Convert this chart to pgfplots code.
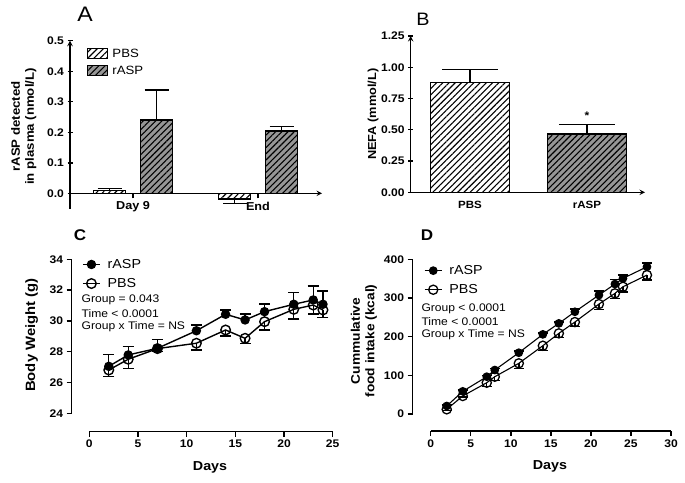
\documentclass[border=0pt]{standalone}
\usepackage{fontspec}
\setmainfont{Liberation Sans}[FakeStretch=1.1]
\usepackage{pgfplots}
\pgfplotsset{compat=1.18}
\usetikzlibrary{patterns.meta}

\pgfplotsset{
  gp/.style={
    scale only axis, anchor=south west, clip=false,
    axis line style={line width=1.4pt,-},
    every tick/.style={line width=1.4pt, black},
    major tick length=5pt, tick align=outside,
    x tick label style={font=\bfseries\fontsize{11}{12}\selectfont},
    y tick label style={font=\bfseries\fontsize{11}{12}\selectfont},
    /pgf/number format/assume math mode=true,
    label style={font=\bfseries\fontsize{12}{14}\selectfont},
  },
  barpat/.style={postaction={pattern={Lines[angle=45,distance=4.4pt,line width=1.1pt]}, draw=black, line width=1.4pt}},
  error bars/ebar/.style={error bar style={line width=1.4pt, black}, error mark options={rotate=90, line width=1.4pt, mark size=#1, black}},
}

\begin{document}
\begin{tikzpicture}
\path[use as bounding box] (0,0) rectangle (685pt,482pt);

% Titles
\node[font=\fontsize{21}{23}\selectfont] at (85pt,468pt) {A};
\node[font=\fontsize{18}{20}\selectfont] at (423pt,462.5pt) {B};
\node[font=\bfseries\fontsize{15.5}{17}\selectfont] at (80pt,246.5pt) {C};
\node[font=\bfseries\fontsize{15.5}{17}\selectfont] at (427pt,247pt) {D};

% ---------- Panel A ----------
\begin{axis}[gp, at={(70pt,273.4pt)}, width=252pt, height=167.9pt,
  xmin=-0.504, xmax=1.512, ymin=-0.05, ymax=0.5,
  axis x line=middle, axis y line=left,
  xtick={0,1}, xticklabels={Day 9, End},
  x tick label style={font=\bfseries\fontsize{11.5}{12}\selectfont},
  ytick={0,0.1,0.2,0.3,0.4,0.5}, yticklabels={0.0,0.1,0.2,0.3,0.4,0.5},
  ybar=15pt, bar width=32pt,
  ylabel={rASP detected\\in plasma (nmol/L)},
  ylabel style={align=center, at={(axis description cs:-0.183,0.489)}, anchor=center},
  legend style={at={(axis description cs:0.067,0.965)}, anchor=north west, draw=none, fill=none, inner sep=0pt,
    font=\fontsize{12}{14}\selectfont, row sep=3pt, column sep=2pt},
  legend cell align=left,
  legend image code/.code={\draw[#1] (0pt,-5pt) rectangle (20pt,5pt);},
]
\addplot[draw=black, line width=1.4pt, fill=white, barpat,
  error bars/.cd, y dir=both, y explicit, ebar=12pt]
  coordinates {(0,0.010) += (0,0.006) -= (0,0) (1,-0.018) += (0,0) -= (0,0.015)};
\addplot[draw=black, line width=1.4pt, fill={rgb,255:red,150;green,150;blue,150}, barpat,
  error bars/.cd, y dir=plus, y explicit, ebar=12pt]
  coordinates {(0,0.240) +- (0,0.099) (1,0.204) +- (0,0.014)};
\legend{PBS, rASP}
\end{axis}

% ---------- Panel B ----------
\begin{axis}[gp, at={(410.7pt,289.7pt)}, width=234.3pt, height=156.3pt,
  xmin=-0.507, xmax=1.496, ymin=0, ymax=1.25,
  axis x line=bottom, axis y line=left,
  xtick={0,1}, xticklabels={PBS, rASP}, x tick style={draw=none},
  x tick label style={font=\bfseries\fontsize{10.5}{12}\selectfont},
  ytick={0,0.25,0.5,0.75,1,1.25}, yticklabels={0.00,0.25,0.50,0.75,1.00,1.25},
  ybar, bar width=79pt, bar shift=0pt,
  ylabel={NEFA (mmol/L)},
  ylabel style={font=\bfseries\fontsize{11.6}{13}\selectfont, at={(axis description cs:-0.16,0.5)}, anchor=center},
]
\addplot[draw=black, line width=1.4pt, fill=white, barpat,
  error bars/.cd, y dir=plus, y explicit, ebar=28pt]
  coordinates {(0,0.880) +- (0,0.100)};
\addplot[draw=black, line width=1.4pt, fill={rgb,255:red,150;green,150;blue,150}, barpat,
  error bars/.cd, y dir=plus, y explicit, ebar=28pt]
  coordinates {(1,0.465) +- (0,0.075)};
\node[font=\bfseries\fontsize{11}{12}\selectfont] at (axis cs:1,0.615) {*};
\end{axis}

% ---------- Panel C ----------
\begin{axis}[gp, at={(89.3pt,68.7pt)}, width=243.4pt, height=154pt,
  xmin=0, xmax=25, ymin=24, ymax=34,
  axis x line*=bottom, axis y line*=left,
  axis x line shift=18.4pt, axis y line shift=17.6pt,
  xtick={0,5,10,15,20,25}, ytick={24,26,28,30,32,34},
  xlabel={Days}, ylabel={Body Weight (g)},
  xlabel style={font=\bfseries\fontsize{13}{15}\selectfont, at={(axis description cs:0.496,-0.349)}, anchor=center},
  ylabel style={font=\bfseries\fontsize{13.5}{15}\selectfont, at={(axis description cs:-0.237,0.508)}, anchor=center},
  legend style={at={(axis description cs:-0.03,1.015)}, anchor=north west, draw=none, fill=none, inner sep=0pt,
    font=\fontsize{13}{14}\selectfont, row sep=4.5pt, column sep=5pt},
  legend cell align=left,
]
\addplot[black, line width=1.4pt, mark=*, mark size=4pt, mark options={solid, fill=black},
  error bars/.cd, y dir=plus, y explicit, ebar=5.5pt]
  table[x=x, y=y, y error=e] {
x y e
2 27.05 0.78
4 27.79 0.53
7 28.22 0.59
11 29.36 0.37
14 30.43 0.28
16 30.06 0.39
18 30.60 0.50
21 31.08 0.78
23 31.36 0.91
24 31.08 0.86
};
\addplot[black, line width=1.4pt, mark=o, mark size=4.8pt, mark options={solid, fill=white, line width=1.4pt},
  error bars/.cd, y dir=minus, y explicit, ebar=5.5pt]
  table[x=x, y=y, y error=e] {
x y e
2 26.81 0.43
4 27.51 0.59
7 28.20 0.20
11 28.55 0.44
14 29.41 0.39
16 28.87 0.32
18 29.95 0.54
21 30.75 0.63
23 31.03 0.58
24 30.71 0.48
};
\legend{rASP, PBS}
\node[anchor=west, font=\fontsize{11}{13}\selectfont] at (axis description cs:-0.046,0.736) {Group = 0.043};
\node[anchor=west, font=\fontsize{11}{13}\selectfont] at (axis description cs:-0.046,0.649) {Time < 0.0001};
\node[anchor=west, font=\fontsize{11}{13}\selectfont] at (axis description cs:-0.046,0.562) {Group x Time = NS};
\end{axis}

% ---------- Panel D ----------
\begin{axis}[gp, at={(430.7pt,68pt)}, width=240.3pt, height=154.7pt,
  xmin=0, xmax=30, ymin=0, ymax=400,
  axis x line*=bottom, axis y line*=left,
  axis x line shift=17pt, axis y line shift=18pt,
  xtick={0,5,10,15,20,25,30}, ytick={0,100,200,300,400},
  xlabel={Days}, ylabel={Cummulative\\food intake (kcal)},
  xlabel style={font=\bfseries\fontsize{13}{15}\selectfont, at={(axis description cs:0.496,-0.34)}, anchor=center},
  ylabel style={align=center, font=\bfseries\fontsize{12.5}{14.5}\selectfont, at={(axis description cs:-0.278,0.472)}, anchor=center},
  legend style={at={(axis description cs:-0.028,0.975)}, anchor=north west, draw=none, fill=none, inner sep=0pt,
    font=\fontsize{13}{14}\selectfont, row sep=4.5pt, column sep=5pt},
  legend cell align=left,
]
\addplot[black, line width=1.1pt, mark=*, mark size=3.8pt, mark options={solid, fill=black},
  error bars/.cd, y dir=plus, y explicit, ebar=5pt]
  table[x=x, y=y, y error=e] {
x y e
2 20.7 3
4 58.6 3
7 96.4 3
8 113.7 4
11 158.4 4
14 205.9 4
16 234.3 4
18 264.3 7
21 307.5 11
23 336.0 12
24 350.6 9
27 380.6 10
};
\addplot[black, line width=1.1pt, mark=o, mark size=4.6pt, mark options={solid, fill=white, line width=1.3pt},
  error bars/.cd, y dir=minus, y explicit, ebar=5pt]
  table[x=x, y=y, y error=e] {
x y e
2 12.1 3
4 46.5 3
7 80.9 10
8 96.4 10
11 131.0 13
14 176.5 13
16 208.5 10
18 237.7 12
21 284.2 14
23 311.9 13
24 329.0 14
27 359.2 13
};
\legend{rASP, PBS}
\node[anchor=west, font=\fontsize{11}{13}\selectfont] at (axis description cs:-0.053,0.683) {Group < 0.0001};
\node[anchor=west, font=\fontsize{11}{13}\selectfont] at (axis description cs:-0.053,0.597) {Time < 0.0001};
\node[anchor=west, font=\fontsize{11}{13}\selectfont] at (axis description cs:-0.053,0.511) {Group x Time = NS};
\end{axis}
\end{tikzpicture}
\end{document}
